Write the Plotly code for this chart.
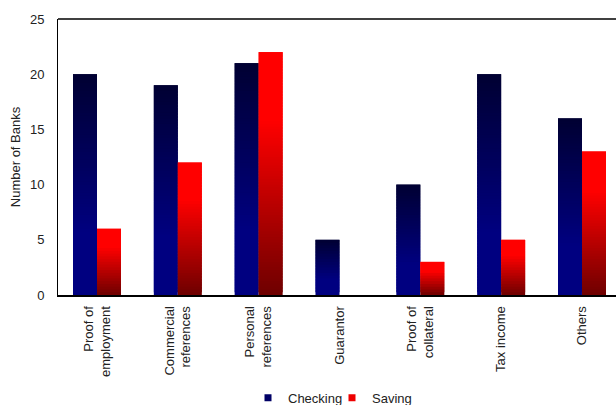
import plotly.graph_objects as go

categories = ["Proof of<br>employment", "Commercial<br>references", "Personal<br>references",
              "Guarantor", "Proof of<br>collateral", "Tax income", "Others"]
checking = [20, 19, 21, 5, 10, 20, 16]
saving = [6, 12, 22, 0, 3, 5, 13]

STEP = 0.25  # height of one gradient slice, in axis units
W, H = 616, 405


def lerp(c0, c1, t):
    return tuple(round(a + (b - a) * t) for a, b in zip(c0, c1))


def checking_color(f):
    # f = position inside the bar, 0 at the base, 1 at the top
    bottom, top = (0, 0, 128), (0, 0, 50)
    t = max(0.0, (f - 0.28) / 0.72)
    return "rgb(%d,%d,%d)" % lerp(bottom, top, t)


def saving_color(f):
    bottom, top = (110, 0, 0), (255, 0, 0)
    t = min(1.0, f / 0.72)
    return "rgb(%d,%d,%d)" % lerp(bottom, top, t)


fig = go.Figure()


def add_gradient_bars(values, name, color_fn):
    # each slice reaches into the next one, so no seams show between slices;
    # slices drawn later sit on top of the overlap
    n = int(round(max(values) / STEP))
    for k in range(n):
        base = k * STEP
        ys, cols = [], []
        for v in values:
            if v > base + 1e-9:
                ys.append(min(2 * STEP, v - base))
                cols.append(color_fn((base + STEP / 2) / v))
            else:
                ys.append(None)
                cols.append("rgba(0,0,0,0)")
        fig.add_trace(go.Bar(
            x=categories, y=ys, base=[base] * len(values),
            offsetgroup=name, legendgroup=name, showlegend=False,
            marker=dict(color=cols, line=dict(width=0)),
            hoverinfo="skip",
        ))


add_gradient_bars(checking, "Checking", checking_color)
add_gradient_bars(saving, "Saving", saving_color)

# legend entries, one legend box each so they can sit close together
for name, col, leg in [("Checking", "#000066", "legend"), ("Saving", "#ee0000", "legend2")]:
    fig.add_trace(go.Scatter(
        x=[None], y=[None], mode="markers", name=name, legendgroup=name, legend=leg,
        marker=dict(symbol="square", size=7, color=col),
    ))

legend_style = dict(orientation="h", xref="container", xanchor="left",
                    yref="container", y=0.018, yanchor="middle",
                    font=dict(size=13, color="#222"), itemwidth=30,
                    bgcolor="rgba(0,0,0,0)")

fig.update_layout(
    width=W, height=H,
    margin=dict(l=58, r=0, t=19, b=110, autoexpand=False),
    paper_bgcolor="white", plot_bgcolor="white",
    barmode="group", bargap=0.406, bargroupgap=0,
    font=dict(family="Liberation Sans, Arial, sans-serif", size=13, color="#222"),
    showlegend=True,
    legend=dict(x=248 / W, **legend_style),
    legend2=dict(x=332 / W, **legend_style),
    xaxis=dict(
        range=[-0.4825, 6.421], showgrid=False, zeroline=False,
        showline=True, linecolor="black", linewidth=2,
        tickangle=-90, ticks="", ticklabelstandoff=4,
        tickfont=dict(size=13, color="#222"),
    ),
    yaxis=dict(
        range=[0, 25], tickvals=[0, 5, 10, 15, 20, 25], showgrid=False, zeroline=False,
        showline=True, linecolor="black", linewidth=1,
        ticks="", ticklabelstandoff=10,
        tickfont=dict(size=13, color="#222"),
        title=dict(text="Number of Banks", font=dict(size=13, color="#222"), standoff=6),
    ),
    shapes=[dict(type="line", xref="paper", yref="paper", x0=0, x1=1, y0=1, y1=1,
                 line=dict(color="black", width=1.5))],
)

fig.write_html("out.html")
